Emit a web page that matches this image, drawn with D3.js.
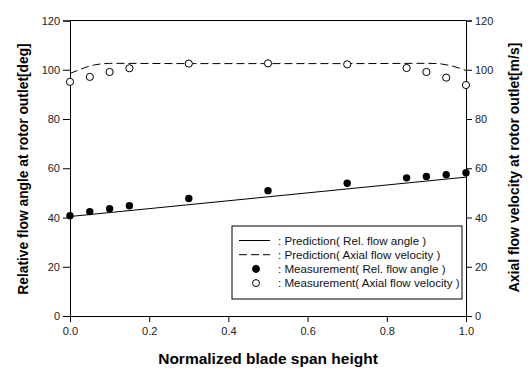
<!DOCTYPE html>
<html>
<head>
<meta charset="utf-8">
<script src="https://cdn.jsdelivr.net/npm/d3@7"></script>
<style>
  body { margin: 0; background: #fff; }
  svg { font-family: "Liberation Sans", Arial, sans-serif; }
  .tick text { fill: #222; font-size: 11px; }
  .domain, .tick line { stroke: #000; }
</style>
</head>
<body>
<div id="chart"></div>
<script>
// measured points
var spanPts = [0, 0.05, 0.1, 0.15, 0.3, 0.5, 0.7, 0.85, 0.9, 0.95, 1.0];
var angleMeas = [40.7, 42.4, 43.6, 44.8, 47.7, 50.9, 53.9, 56.1, 56.7, 57.4, 58.2];
var velMeas = [95.1, 97.1, 99.1, 100.6, 102.5, 102.6, 102.2, 100.7, 99.1, 96.8, 93.8];

// prediction curves
var anglePredX = [0, 0.25, 0.5, 0.75, 1.0];
var anglePred = [40.4, 44.4, 48.4, 52.4, 56.4];
var velPredX = [0, 0.02, 0.04, 0.06, 0.08, 0.1, 0.3, 0.5, 0.7, 0.9, 0.93, 0.95, 0.97, 1.0];
var velPred = [98.5, 99.8, 101.0, 101.9, 102.4, 102.6, 102.5, 102.5, 102.5, 102.6, 102.5, 102.0, 101.3, 99.7];

var xTicks = [0, 0.2, 0.4, 0.6, 0.8, 1.0];
var yTicks = [0, 20, 40, 60, 80, 100, 120];

var W = 532, H = 373;
var margin = {top: 20.5, right: 66, bottom: 57, left: 70};

var svg = d3.select("#chart").append("svg").attr("width", W).attr("height", H);

var x = d3.scaleLinear().domain([0, 1]).range([margin.left, W - margin.right]);
var yL = d3.scaleLinear().domain([0, 120]).range([H - margin.bottom, margin.top]);
var yR = d3.scaleLinear().domain([0, 120]).range([H - margin.bottom, margin.top]);

// frame top
svg.append("line")
  .attr("x1", x(0)).attr("x2", x(1))
  .attr("y1", yL(120)).attr("y2", yL(120))
  .attr("stroke", "#000");

svg.append("g")
  .attr("transform", "translate(0," + (H - margin.bottom) + ")")
  .call(d3.axisBottom(x).tickValues(xTicks).tickFormat(d3.format(".1f")).tickSizeOuter(0).tickSize(6).tickPadding(5));

svg.append("g")
  .attr("transform", "translate(" + margin.left + ",0)")
  .call(d3.axisLeft(yL).tickValues(yTicks).tickSizeOuter(0).tickSize(7).tickPadding(3));

svg.append("g")
  .attr("transform", "translate(" + (W - margin.right) + ",0)")
  .call(d3.axisRight(yR).tickValues(yTicks).tickSizeOuter(0).tickSize(6).tickPadding(3));

var line = d3.line().x(d => x(d[0])).y(d => yL(d[1]));

svg.append("path")
  .datum(d3.zip(anglePredX, anglePred))
  .attr("d", line)
  .attr("fill", "none").attr("stroke", "#000").attr("stroke-width", 1);

svg.append("path")
  .datum(d3.zip(velPredX, velPred))
  .attr("d", line.curve(d3.curveMonotoneX))
  .attr("fill", "none").attr("stroke", "#000").attr("stroke-width", 1)
  .attr("stroke-dasharray", "8,4");

svg.selectAll(".angleMeas")
  .data(d3.zip(spanPts, angleMeas))
  .enter().append("circle")
  .attr("class", "angleMeas")
  .attr("cx", d => x(d[0])).attr("cy", d => yL(d[1]))
  .attr("r", 3.7).attr("fill", "#000");

svg.selectAll(".velMeas")
  .data(d3.zip(spanPts, velMeas))
  .enter().append("circle")
  .attr("class", "velMeas")
  .attr("cx", d => x(d[0])).attr("cy", d => yR(d[1]))
  .attr("r", 3.6).attr("fill", "#fff").attr("stroke", "#000").attr("stroke-width", 1);

// legend
var legendItems = [
  {label: ": Prediction( Rel. flow angle )", type: "solid"},
  {label: ": Prediction( Axial flow velocity )", type: "dash"},
  {label: ": Measurement( Rel. flow angle )", type: "filled"},
  {label: ": Measurement( Axial flow velocity )", type: "open"}
];

var lg = svg.append("g").attr("transform", "translate(232,226)");
lg.append("rect").attr("width", 230).attr("height", 73)
  .attr("fill", "#fff").attr("stroke", "#000");

var row = lg.selectAll(".row").data(legendItems).enter().append("g")
  .attr("transform", (d, i) => "translate(0," + (14.5 + i * 14.2) + ")");

row.filter(d => d.type == "solid" || d.type == "dash")
  .append("line")
  .attr("x1", 7).attr("x2", 38).attr("y1", 0).attr("y2", 0)
  .attr("stroke", "#000")
  .attr("stroke-dasharray", d => d.type == "dash" ? "8,4" : null);

row.filter(d => d.type == "filled" || d.type == "open")
  .append("circle")
  .attr("cx", 24).attr("cy", 0).attr("r", 3.5)
  .attr("fill", d => d.type == "filled" ? "#000" : "#fff")
  .attr("stroke", "#000");

row.append("text")
  .attr("x", 46).attr("y", 4.2)
  .style("font-size", "11.6px").attr("fill", "#111")
  .text(d => d.label);

// axis titles
svg.append("text")
  .attr("x", x(0.5)).attr("y", 364)
  .attr("text-anchor", "middle")
  .style("font-size", "15.5px").style("font-weight", "bold")
  .text("Normalized blade span height");

svg.append("text")
  .attr("transform", "translate(27.5,169) rotate(-90)")
  .attr("text-anchor", "middle")
  .style("font-size", "13.8px").style("font-weight", "bold")
  .text("Relative flow angle at rotor outlet[deg]");

svg.append("text")
  .attr("transform", "translate(519,167.5) rotate(-90)")
  .attr("text-anchor", "middle")
  .style("font-size", "14px").style("font-weight", "bold")
  .text("Axial flow velocity at rotor outlet[m/s]");
</script>
</body>
</html>
